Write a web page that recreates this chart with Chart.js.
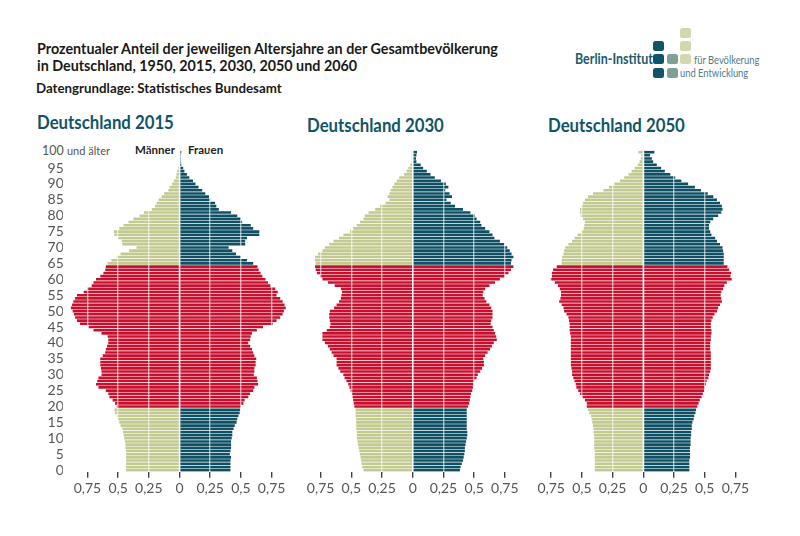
<!DOCTYPE html>
<html lang="de">
<head>
<meta charset="utf-8">
<title>Deutschland Bevölkerungspyramiden</title>
<script src="https://cdn.jsdelivr.net/npm/chart.js@4"></script>
<style>
  html, body { margin: 0; padding: 0; background: #fff; }
  #page { position: relative; width: 800px; height: 536px; overflow: hidden; font-family: Lato, sans-serif; }
  #page canvas { position: absolute; top: 145px; }
  .txt { position: absolute; white-space: nowrap; transform-origin: left top; }
  .head { left: 37px; font-size: 15px; font-weight: 700; color: #1a1a1a; transform: scaleX(.955); }
  .panel { font-size: 19.5px; font-weight: 700; color: #0f5468; transform: scaleX(.86); }
  .logo { font-size: 12px; color: #4c7d8a; transform: scaleX(.78); }
  .sq { position: absolute; width: 11px; height: 10px; border-radius: 2.5px; }
</style>
</head>
<body>
<div id="page">
  <div class="txt head" style="top:39px">Prozentualer Anteil der jeweiligen Altersjahre an der Gesamtbevölkerung</div>
  <div class="txt head" style="top:56px">in Deutschland, 1950, 2015, 2030, 2050 und 2060</div>
  <div class="txt" style="left:36px;top:80px;font-size:13.3px;font-weight:700;color:#1a1a1a">Datengrundlage: Statistisches Bundesamt</div>

  <div class="txt panel" style="left:37px;top:110px">Deutschland 2015</div>
  <div class="txt panel" style="left:307px;top:113px">Deutschland 2030</div>
  <div class="txt panel" style="left:548px;top:113px">Deutschland 2050</div>

  <div class="txt" style="left:42px;top:143px;font-size:12.5px;color:#555">100 <span style="font-size:11px">und älter</span></div>
  <div class="txt" style="left:135px;top:143px;font-size:11.5px;font-weight:700;color:#222">Männer</div>
  <div class="txt" style="left:188px;top:143px;font-size:11.5px;font-weight:700;color:#222">Frauen</div>

  <div class="txt" style="left:575px;top:50px;font-size:14.5px;font-weight:700;color:#1c5a6c;transform:scaleX(.86)">Berlin-Institut</div>
  <div class="txt logo" style="left:694px;top:52px">für Bevölkerung</div>
  <div class="txt logo" style="left:680px;top:65px">und Entwicklung</div>
  <div class="sq" style="left:653px;top:41px;background:#0f5468"></div>
  <div class="sq" style="left:653px;top:54px;background:#0f5468"></div>
  <div class="sq" style="left:653px;top:68px;background:#0f5468"></div>
  <div class="sq" style="left:667px;top:54px;background:#7f9f99"></div>
  <div class="sq" style="left:667px;top:68px;background:#7f9f99"></div>
  <div class="sq" style="left:680px;top:28px;background:#d2d8ae"></div>
  <div class="sq" style="left:680px;top:41px;background:#d2d8ae"></div>
  <div class="sq" style="left:680px;top:54px;background:#d2d8ae"></div>

  <canvas id="chart-2015" width="280" height="360" style="left:20px"></canvas>
  <canvas id="chart-2030" width="245" height="360" style="left:290px"></canvas>
  <canvas id="chart-2050" width="250" height="360" style="left:520px"></canvas>
</div>

<script>
// all series run from age 100 at the top down to age 0, ten years per row
const men2015 = [
  .005,.005,.005,.005,.005,.01,.02,.025,.03,.045,
  .06,.08,.09,.125,.145,.17,.185,.20,.225,.29,
  .325,.375,.415,.455,.49,.535,.53,.50,.47,.465,
  .35,.41,.48,.51,.555,.585,.60,.605,.62,.645,
  .68,.70,.715,.75,.78,.835,.85,.865,.875,.885,
  .87,.86,.85,.835,.81,.74,.70,.635,.585,.58,
  .58,.59,.60,.605,.625,.645,.645,.645,.64,.635,
  .635,.66,.67,.68,.66,.60,.58,.57,.545,.525,
  .51,.53,.525,.51,.50,.49,.48,.465,.46,.455,
  .45,.445,.44,.44,.435,.435,.435,.435,.435,.435,
  .435
];
const women2015 = [
  .015,.01,.01,.01,.015,.03,.04,.06,.08,.11,
  .13,.155,.185,.21,.24,.25,.29,.30,.32,.42,
  .47,.50,.51,.58,.60,.65,.65,.55,.535,.535,
  .40,.43,.46,.50,.55,.60,.635,.645,.66,.675,
  .70,.72,.74,.78,.80,.79,.82,.84,.855,.865,
  .85,.84,.82,.79,.76,.68,.63,.59,.58,.575,
  .56,.575,.59,.60,.61,.625,.62,.62,.61,.61,
  .605,.63,.635,.64,.61,.60,.575,.56,.53,.52,
  .50,.495,.49,.48,.47,.465,.45,.44,.43,.43,
  .425,.42,.42,.42,.415,.41,.42,.415,.415,.415,
  .415
];
const men2030 = [
  .008,.008,.008,.008,.02,.035,.05,.07,.11,.13,
  .15,.165,.18,.19,.205,.19,.22,.265,.305,.36,
  .39,.40,.43,.455,.485,.51,.565,.60,.645,.68,
  .715,.735,.77,.795,.795,.79,.795,.79,.78,.755,
  .735,.69,.635,.585,.575,.58,.585,.60,.62,.64,
  .675,.68,.68,.675,.67,.675,.70,.735,.735,.735,
  .715,.69,.675,.66,.645,.62,.62,.62,.605,.59,
  .565,.555,.54,.525,.515,.505,.495,.49,.485,.48,
  .475,.465,.465,.465,.46,.46,.46,.46,.455,.455,
  .455,.45,.445,.44,.435,.43,.425,.42,.415,.41,
  .40
];
const women2030 = [
  .035,.03,.027,.03,.065,.085,.115,.145,.18,.23,
  .27,.29,.265,.30,.32,.275,.31,.345,.41,.47,
  .505,.52,.55,.56,.59,.625,.65,.665,.71,.745,
  .77,.79,.805,.82,.805,.80,.82,.80,.78,.75,
  .71,.67,.625,.59,.575,.57,.585,.60,.625,.64,
  .65,.65,.65,.64,.635,.65,.66,.67,.68,.685,
  .66,.645,.63,.61,.59,.575,.58,.58,.565,.55,
  .53,.52,.50,.495,.49,.485,.475,.47,.465,.46,
  .45,.44,.44,.44,.44,.44,.44,.44,.445,.445,
  .44,.435,.43,.425,.425,.42,.415,.41,.40,.39,
  .385
];
const men2050 = [
  .04,.015,.02,.03,.045,.07,.095,.12,.155,.19,
  .235,.28,.325,.41,.45,.475,.49,.50,.515,.515,
  .51,.49,.475,.48,.485,.50,.535,.56,.58,.61,
  .635,.645,.65,.66,.665,.665,.705,.735,.745,.745,
  .755,.72,.695,.68,.67,.67,.675,.685,.665,.65,
  .645,.625,.61,.605,.60,.60,.60,.595,.59,.59,
  .59,.59,.59,.59,.59,.59,.59,.59,.585,.58,
  .58,.57,.56,.55,.545,.53,.515,.495,.475,.46,
  .46,.45,.44,.425,.42,.415,.41,.405,.405,.40,
  .40,.40,.40,.40,.395,.395,.395,.395,.395,.395,
  .395
];
const women2050 = [
  .09,.055,.07,.08,.11,.145,.175,.22,.26,.31,
  .365,.42,.47,.525,.57,.60,.625,.64,.645,.635,
  .61,.57,.545,.535,.535,.545,.555,.585,.60,.625,
  .645,.65,.655,.655,.655,.655,.685,.70,.715,.71,
  .72,.68,.66,.65,.635,.63,.635,.64,.625,.61,
  .60,.58,.565,.555,.55,.55,.555,.555,.55,.55,
  .545,.545,.545,.55,.55,.55,.55,.55,.55,.545,
  .535,.53,.515,.51,.50,.495,.485,.475,.46,.45,
  .44,.43,.425,.415,.41,.40,.395,.395,.39,.39,
  .385,.385,.385,.38,.38,.38,.38,.375,.375,.375,
  .375
];
const ages = men2015.map((_, i) => 100 - i);
const ageLabels = ages.map((a) => (a === 100 ? "100 und älter" : String(a)));
const tickValues = [-0.75, -0.5, -0.25, 0, 0.25, 0.5, 0.75];

const GREEN = "#c3ca8f";
const TEAL = "#0f5065";
const RED = "#c8102e";
const WORKING_AGE = [20, 64];

const PX_PER_UNIT = 122.8;
const X_RANGE = 0.95;

Chart.defaults.font.family = "Lato, sans-serif";
Chart.defaults.animation = false;

function barColors(base) {
  return ages.map((a) => (a >= WORKING_AGE[0] && a <= WORKING_AGE[1] ? RED : base));
}

// zeroX is where the middle line of the pyramid sits on the page
function drawPyramid(id, men, women, canvasLeft, zeroX, showAges) {
  const canvas = document.getElementById(id);
  const areaLeft = zeroX - X_RANGE * PX_PER_UNIT;
  const areaRight = zeroX + X_RANGE * PX_PER_UNIT;
  const yWidth = showAges ? areaLeft - canvasLeft : 0;

  return new Chart(canvas, {
    type: "bar",
    data: {
      labels: ageLabels,
      datasets: [
        { label: "Männer", data: men.map((v) => -v), backgroundColor: barColors(GREEN) },
        { label: "Frauen", data: women, backgroundColor: barColors(TEAL) },
      ],
    },
    options: {
      indexAxis: "y",
      responsive: false,
      devicePixelRatio: 1,
      barPercentage: 0.82,
      categoryPercentage: 1,
      layout: {
        padding: {
          top: 5.5,
          left: showAges ? 0 : areaLeft - canvasLeft,
          right: canvasLeft + canvas.width - areaRight,
        },
      },
      plugins: { legend: { display: false }, tooltip: { enabled: false } },
      scales: {
        x: {
          stacked: true,
          min: -X_RANGE,
          max: X_RANGE,
          afterBuildTicks: (s) => { s.ticks = tickValues.map((value) => ({ value })); },
          afterFit: (s) => { s.height = 33.3; },
          border: { display: false },
          grid: { z: 1, color: "rgba(255,255,255,0.6)", lineWidth: 1.4, tickColor: "#444", tickLength: 6, tickWidth: 1.4 },
          ticks: {
            color: "#555",
            font: { size: 14 },
            padding: 2,
            maxRotation: 0,
            callback: (v) => String(Math.abs(v)).replace(".", ","),
          },
        },
        y: {
          display: showAges,
          stacked: true,
          afterFit: (s) => { s.width = yWidth; s.paddingTop = 0; s.paddingBottom = 0; },
          border: { display: false },
          grid: { display: false, drawTicks: false },
          ticks: {
            color: "#555",
            font: { size: 14 },
            padding: -1,
            autoSkip: false,
            callback: (_, i) => (ages[i] % 5 === 0 && ages[i] !== 100 ? ageLabels[i] : ""),
          },
        },
      },
    },
  });
}

drawPyramid("chart-2015", men2015, women2015, 20, 179.5, true);
drawPyramid("chart-2030", men2030, women2030, 290, 412.7, false);
drawPyramid("chart-2050", men2050, women2050, 520, 643.3, false);
</script>
</body>
</html>
